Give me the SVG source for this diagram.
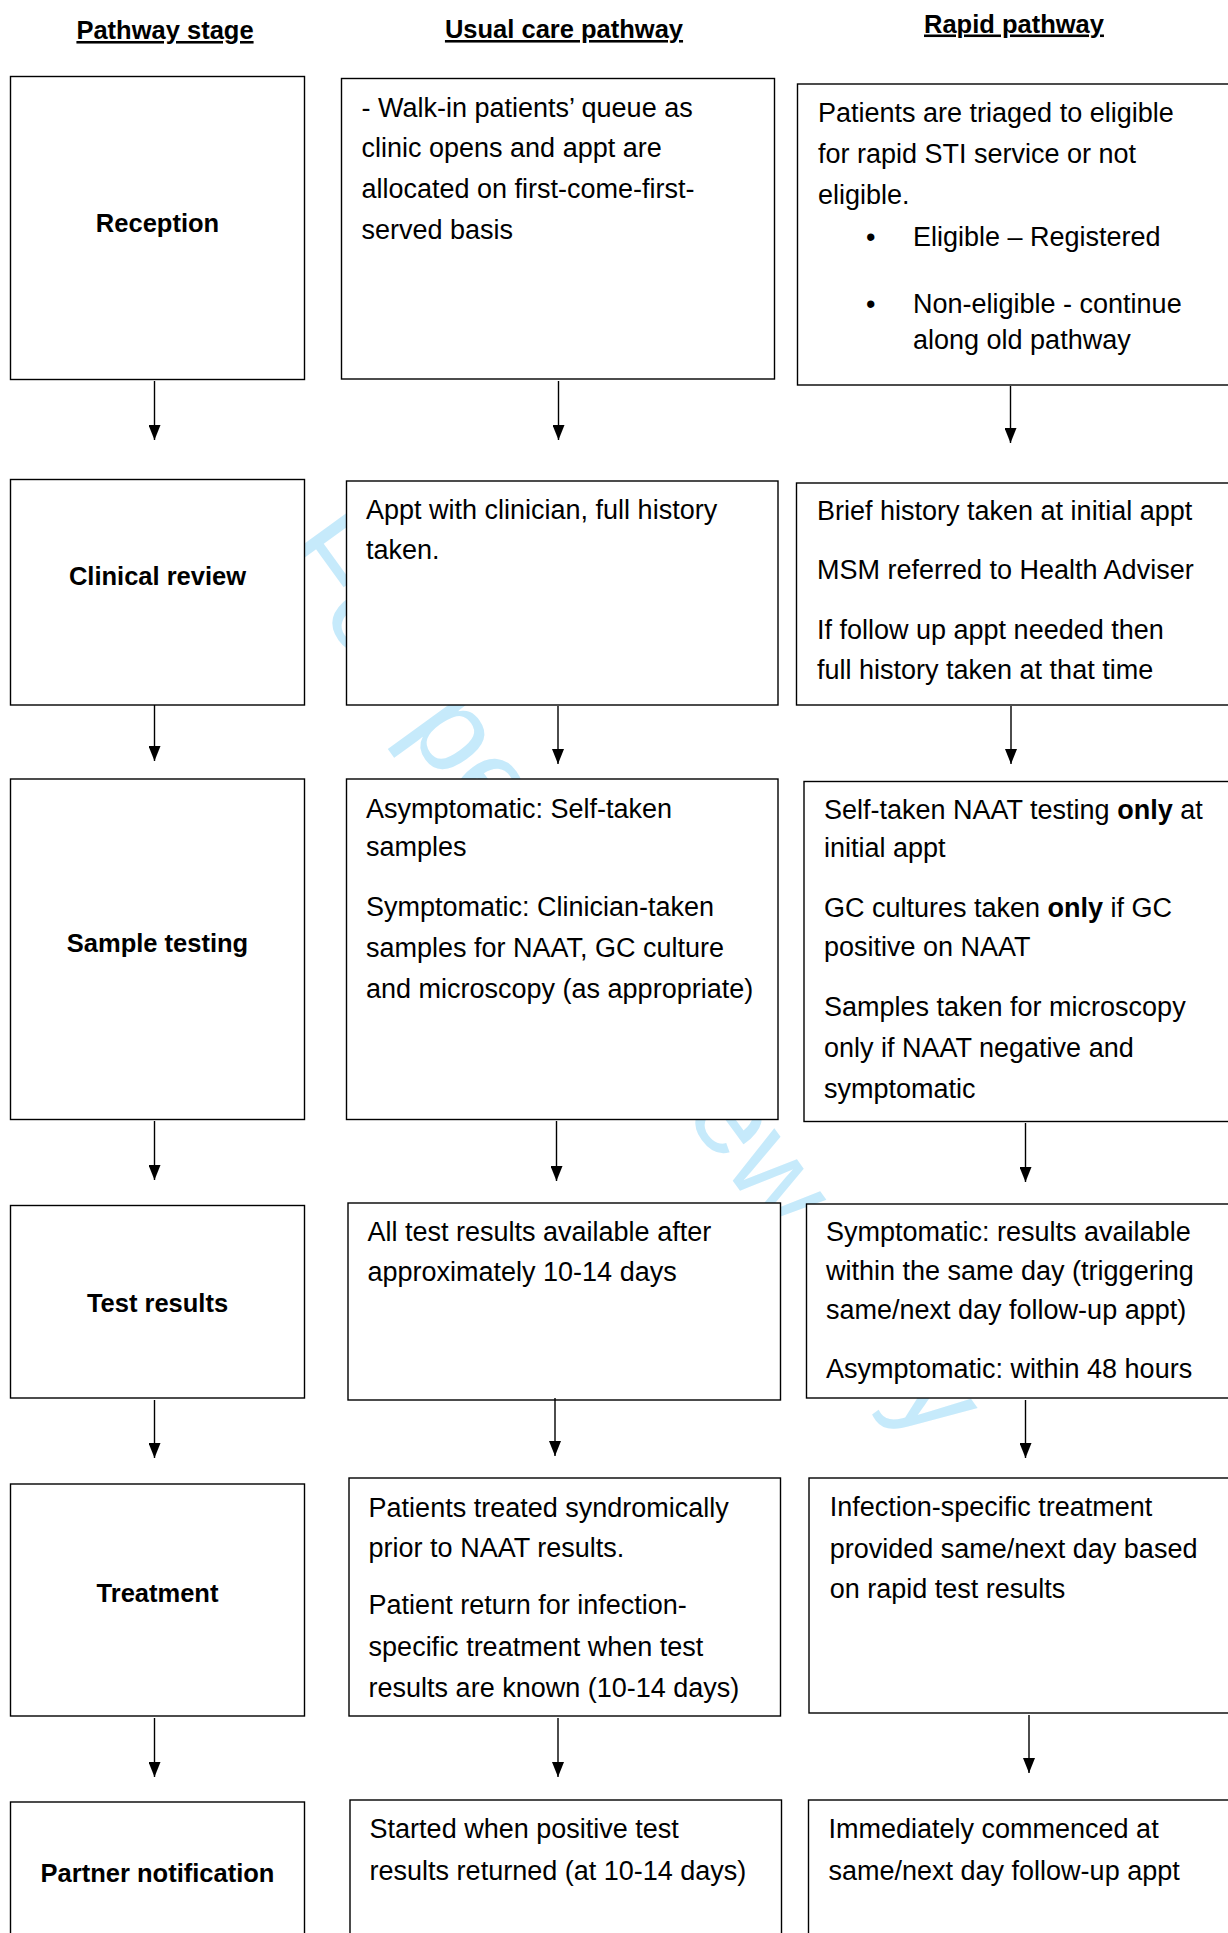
<svg xmlns="http://www.w3.org/2000/svg" width="1228" height="1933" viewBox="0 0 1228 1933">
<defs>
<style>
.box{fill:#fff;stroke:#000;stroke-width:1.4}
.t{font-family:"Liberation Sans",Arial,sans-serif;font-size:27px;fill:#000}
.st{font-family:"Liberation Sans",Arial,sans-serif;font-size:25.5px;font-weight:bold;fill:#000;text-anchor:middle}
.hd{font-family:"Liberation Sans",Arial,sans-serif;font-size:25.5px;font-weight:bold;fill:#000;text-anchor:middle;text-decoration:underline}
.b{font-weight:bold}
.wm{font-family:"Liberation Sans",Arial,sans-serif;font-size:122px;fill:#c6eafb}
.conn line{stroke:#000;stroke-width:1.4;marker-end:url(#ah)}
</style>
<marker id="ah" markerUnits="userSpaceOnUse" viewBox="0 0 15 12" refX="15" refY="6" markerWidth="15" markerHeight="12" orient="auto">
<path d="M0,0 L15,6 L0,12 z" fill="#000"/>
</marker>
</defs>
<rect width="1228" height="1933" fill="#fff"/>
<text class="wm" transform="translate(276,552) rotate(54)">For peer review only</text>

<g id="headers">
<text class="hd" x="165" y="39">Pathway stage</text>
<text class="hd" x="564" y="38">Usual care pathway</text>
<text class="hd" x="1014" y="32.5">Rapid pathway</text>
</g>

<g id="stage-reception"><rect class="box" x="10.5" y="76.5" width="294" height="303"/><text class="st" x="157.5" y="232">Reception</text></g>
<g id="stage-clinical"><rect class="box" x="10.5" y="479.5" width="294" height="225.5"/><text class="st" x="157.5" y="585">Clinical review</text></g>
<g id="stage-sample"><rect class="box" x="10.5" y="779" width="294" height="340.5"/><text class="st" x="157.5" y="952">Sample testing</text></g>
<g id="stage-results"><rect class="box" x="10.5" y="1205.5" width="294" height="192.5"/><text class="st" x="157.5" y="1311.5">Test results</text></g>
<g id="stage-treatment"><rect class="box" x="10.5" y="1484" width="294" height="232"/><text class="st" x="157.5" y="1601.5">Treatment</text></g>
<g id="stage-partner"><rect class="box" x="10.5" y="1802" width="294" height="160"/><text class="st" x="157.5" y="1881.5">Partner notification</text></g>

<g id="usual-reception"><rect class="box" x="341.5" y="78.5" width="433" height="300.5"/>
<text class="t" x="361.5" y="116.7">- Walk-in patients’ queue as</text>
<text class="t" x="361.5" y="157.3">clinic opens and appt are</text>
<text class="t" x="361.5" y="198.3">allocated on first-come-first-</text>
<text class="t" x="361.5" y="239">served basis</text></g>
<g id="usual-clinical"><rect class="box" x="346.5" y="481" width="431.5" height="224"/>
<text class="t" x="366" y="518.5">Appt with clinician, full history</text>
<text class="t" x="366" y="559">taken.</text></g>
<g id="usual-sample"><rect class="box" x="346.5" y="779" width="431.5" height="340.5"/>
<text class="t" x="366" y="817.5">Asymptomatic: Self-taken</text>
<text class="t" x="366" y="855.5">samples</text>
<text class="t" x="366" y="915.7">Symptomatic: Clinician-taken</text>
<text class="t" x="366" y="957">samples for NAAT, GC culture</text>
<text class="t" x="366" y="998">and microscopy (as appropriate)</text></g>
<g id="usual-results"><rect class="box" x="348" y="1203" width="432.5" height="197"/>
<text class="t" x="367.5" y="1240.5">All test results available after</text>
<text class="t" x="367.5" y="1280.7">approximately 10-14 days</text></g>
<g id="usual-treatment"><rect class="box" x="349" y="1478" width="431.5" height="238"/>
<text class="t" x="368.6" y="1517">Patients treated syndromically</text>
<text class="t" x="368.6" y="1557">prior to NAAT results.</text>
<text class="t" x="368.6" y="1614">Patient return for infection-</text>
<text class="t" x="368.6" y="1655.5">specific treatment when test</text>
<text class="t" x="368.6" y="1697">results are known (10-14 days)</text></g>
<g id="usual-partner"><rect class="box" x="350" y="1800" width="431.5" height="160"/>
<text class="t" x="369.6" y="1838">Started when positive test</text>
<text class="t" x="369.6" y="1879.5">results returned (at 10-14 days)</text></g>

<g id="rapid-reception"><rect class="box" x="797.5" y="84" width="450" height="301"/>
<text class="t" x="818" y="121.7">Patients are triaged to eligible</text>
<text class="t" x="818" y="163">for rapid STI service or not</text>
<text class="t" x="818" y="204">eligible.</text>
<text class="t" x="866" y="245.7">•</text><text class="t" x="913" y="245.7">Eligible – Registered</text>
<text class="t" x="866" y="312.5">•</text><text class="t" x="913" y="312.5">Non-eligible - continue</text>
<text class="t" x="913" y="348.5">along old pathway</text></g>
<g id="rapid-clinical"><rect class="box" x="796.5" y="483" width="450" height="222"/>
<text class="t" x="817" y="519.5">Brief history taken at initial appt</text>
<text class="t" x="817" y="579">MSM referred to Health Adviser</text>
<text class="t" x="817" y="639">If follow up appt needed then</text>
<text class="t" x="817" y="679">full history taken at that time</text></g>
<g id="rapid-sample"><rect class="box" x="804" y="781.5" width="450" height="340"/>
<text class="t" x="824" y="819">Self-taken NAAT testing <tspan class="b">only</tspan> at</text>
<text class="t" x="824" y="857">initial appt</text>
<text class="t" x="824" y="917">GC cultures taken <tspan class="b">only</tspan> if GC</text>
<text class="t" x="824" y="955.5">positive on NAAT</text>
<text class="t" x="824" y="1016">Samples taken for microscopy</text>
<text class="t" x="824" y="1057">only if NAAT negative and</text>
<text class="t" x="824" y="1098">symptomatic</text></g>
<g id="rapid-results"><rect class="box" x="806.5" y="1204" width="450" height="194"/>
<text class="t" x="826" y="1241">Symptomatic: results available</text>
<text class="t" x="826" y="1280">within the same day (triggering</text>
<text class="t" x="826" y="1319">same/next day follow-up appt)</text>
<text class="t" x="826" y="1378">Asymptomatic: within 48 hours</text></g>
<g id="rapid-treatment"><rect class="box" x="809" y="1478" width="450" height="235"/>
<text class="t" x="829.7" y="1516">Infection-specific treatment</text>
<text class="t" x="829.7" y="1558">provided same/next day based</text>
<text class="t" x="829.7" y="1598">on rapid test results</text></g>
<g id="rapid-partner"><rect class="box" x="808.5" y="1800" width="450" height="160"/>
<text class="t" x="828.5" y="1838">Immediately commenced at</text>
<text class="t" x="828.5" y="1879.5">same/next day follow-up appt</text></g>

<g id="connectors" class="conn">
<line x1="154.5" y1="381" x2="154.5" y2="440"/>
<line x1="154.5" y1="705" x2="154.5" y2="761"/>
<line x1="154.5" y1="1121" x2="154.5" y2="1180"/>
<line x1="154.5" y1="1400" x2="154.5" y2="1458"/>
<line x1="154.5" y1="1718" x2="154.5" y2="1777"/>
<line x1="558.5" y1="381" x2="558.5" y2="440"/>
<line x1="558" y1="706" x2="558" y2="764"/>
<line x1="556.5" y1="1121" x2="556.5" y2="1181"/>
<line x1="555" y1="1398" x2="555" y2="1456"/>
<line x1="558" y1="1718" x2="558" y2="1777"/>
<line x1="1010.5" y1="386" x2="1010.5" y2="443"/>
<line x1="1011" y1="706" x2="1011" y2="764"/>
<line x1="1025.5" y1="1123" x2="1025.5" y2="1182"/>
<line x1="1025.5" y1="1400" x2="1025.5" y2="1458"/>
<line x1="1029" y1="1715" x2="1029" y2="1773"/>
</g>
</svg>
